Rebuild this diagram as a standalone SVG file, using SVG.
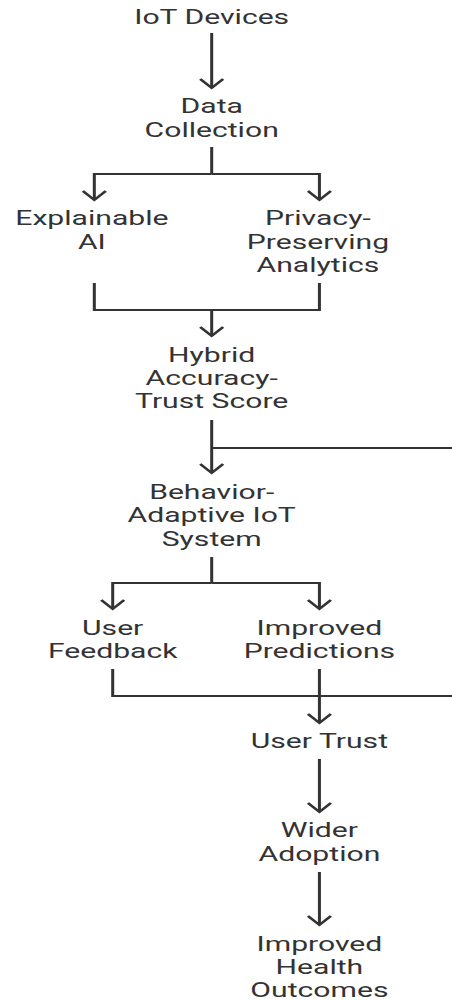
<svg xmlns="http://www.w3.org/2000/svg" width="452" height="1000" viewBox="0 0 452 1000">
<style>
text{font-family:Roboto,"Liberation Sans",sans-serif;font-size:20px;fill:#333;text-anchor:middle}
.c path{fill:none;stroke:#333;stroke-width:2}
</style>
<defs>
<marker id="ah" markerUnits="userSpaceOnUse" viewBox="-12 -12 24 24" refX="0" refY="0" markerWidth="24" markerHeight="24" orient="auto" overflow="visible">
<path d="M-9,-7.6 L0,0 L-9,7.6" fill="none" stroke="#333" stroke-width="2"/>
</marker>
</defs>
<rect width="452" height="1000" fill="#fff"/>
<g transform="scale(1.5067,1)">
<g class="c" id="connectors">
<path d="M140.5,33 V88" marker-end="url(#ah)"/>
<path d="M140.5,147 V174"/>
<path d="M140.5,174 H62.6 V200" marker-end="url(#ah)"/>
<path d="M140.5,174 H212 V200" marker-end="url(#ah)"/>
<path d="M62.6,283 V310 H212 V283"/>
<path d="M140.5,310 V336" marker-end="url(#ah)"/>
<path d="M140.5,420 V473" marker-end="url(#ah)"/>
<path d="M140.5,448 H300"/>
<path d="M140.5,557 V583"/>
<path d="M140.5,583 H74.8 V609" marker-end="url(#ah)"/>
<path d="M140.5,583 H212 V609" marker-end="url(#ah)"/>
<path d="M74.8,669 V696 H300"/>
<path d="M212,669 V723" marker-end="url(#ah)"/>
<path d="M212,759 V812" marker-end="url(#ah)"/>
<path d="M212,872 V925" marker-end="url(#ah)"/>
</g>
<g id="iot"><text x="140.5" y="24">IoT Devices</text></g>
<g id="data"><text x="140.5" y="113">Data</text><text x="140.5" y="137">Collection</text></g>
<g id="xai"><text x="61" y="225">Explainable</text><text x="61" y="249">AI</text></g>
<g id="ppa"><text x="211" y="225">Privacy-</text><text x="211" y="249">Preserving</text><text x="211" y="272">Analytics</text></g>
<g id="hybrid"><text x="140.5" y="362">Hybrid</text><text x="140.5" y="385">Accuracy-</text><text x="140.5" y="408">Trust Score</text></g>
<g id="behavior"><text x="140.5" y="499">Behavior-</text><text x="140.5" y="522">Adaptive IoT</text><text x="140.5" y="546">System</text></g>
<g id="feedback"><text x="74.8" y="635">User</text><text x="74.8" y="658">Feedback</text></g>
<g id="predictions"><text x="212" y="635">Improved</text><text x="212" y="658">Predictions</text></g>
<g id="trust"><text x="212" y="748">User Trust</text></g>
<g id="adoption"><text x="212" y="837">Wider</text><text x="212" y="861">Adoption</text></g>
<g id="outcomes"><text x="212" y="951">Improved</text><text x="212" y="974">Health</text><text x="212" y="997">Outcomes</text></g>
</g>
</svg>
